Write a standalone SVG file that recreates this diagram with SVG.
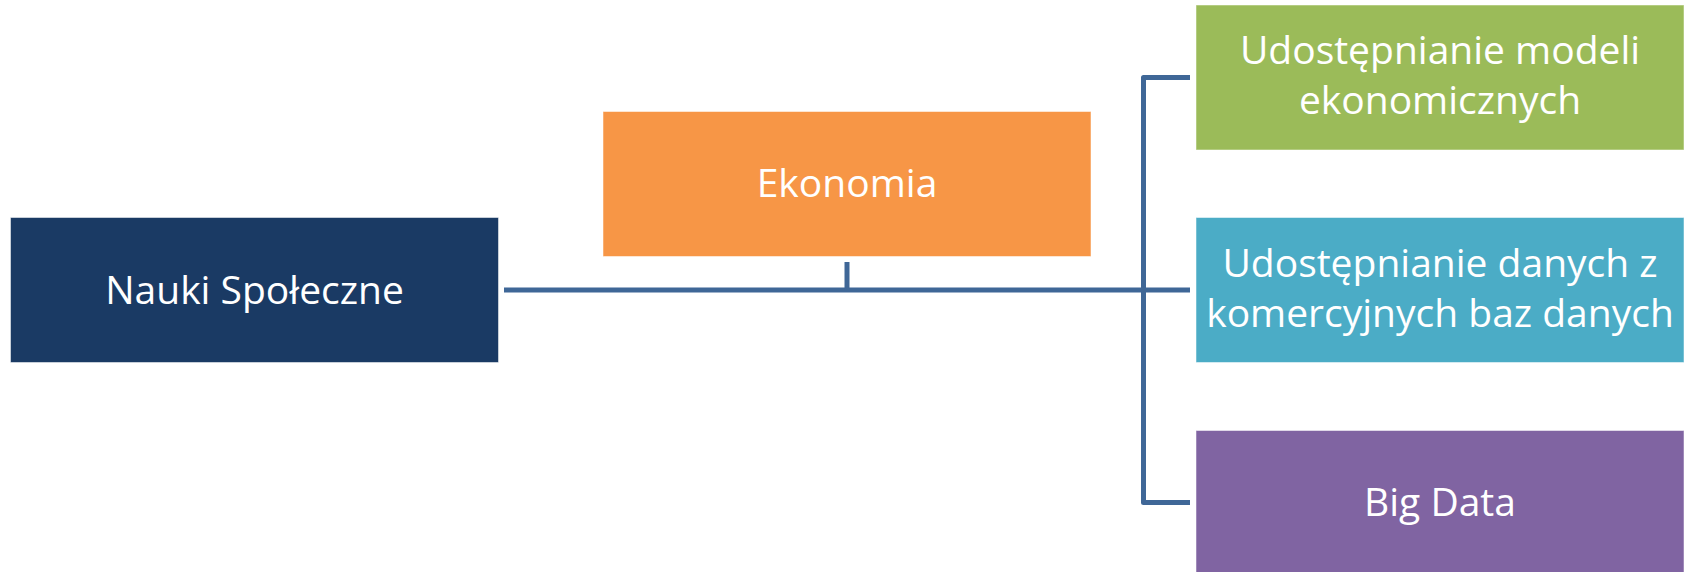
<svg xmlns="http://www.w3.org/2000/svg" width="1687" height="572" viewBox="0 0 1687 572">
  <style>
    .box { stroke: #ffffff; stroke-opacity: 0.5; stroke-width: 1; }
    .lbl { font-family: "Open Sans", "Liberation Sans", sans-serif; font-size: 39px; fill: #ffffff; text-anchor: middle; }
    .conn { fill: none; stroke: #3F6797; stroke-width: 5; stroke-linejoin: round; }
  </style>
  <rect width="1687" height="572" fill="#ffffff"/>
  <g id="connectors">
    <line class="conn" x1="504" y1="290" x2="1190" y2="290"/>
    <line class="conn" x1="847" y1="262" x2="847" y2="290"/>
    <path class="conn" d="M1190,77.5 H1143.5 V502.5 H1190"/>
  </g>
  <g id="nauki">
    <rect class="box" x="10.5" y="217.5" width="488" height="145" fill="#1A3A64"/>
    <text class="lbl" x="254.5" y="304">Nauki Społeczne</text>
  </g>
  <g id="ekonomia">
    <rect class="box" x="603" y="111.5" width="488" height="145" fill="#F79646"/>
    <text class="lbl" x="847" y="197">Ekonomia</text>
  </g>
  <g id="modele">
    <rect class="box" x="1196" y="5" width="488" height="145" fill="#9BBB59"/>
    <text class="lbl" x="1440" y="64">Udostępnianie modeli</text>
    <text class="lbl" x="1440" y="114">ekonomicznych</text>
  </g>
  <g id="dane">
    <rect class="box" x="1196" y="217.5" width="488" height="145" fill="#4BACC6"/>
    <text class="lbl" x="1440" y="277">Udostępnianie danych z</text>
    <text class="lbl" x="1440" y="327">komercyjnych baz danych</text>
  </g>
  <g id="bigdata">
    <rect class="box" x="1196" y="430.5" width="488" height="145" fill="#8064A2"/>
    <text class="lbl" x="1440" y="516">Big Data</text>
  </g>
</svg>
